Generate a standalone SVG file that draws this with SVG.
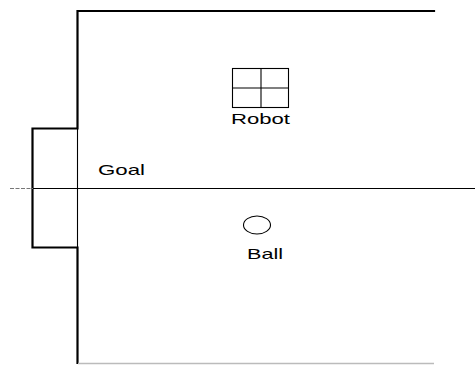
<svg xmlns="http://www.w3.org/2000/svg" width="475" height="365" viewBox="0 0 475 365">
<style>
.thick{fill:none;stroke:#000;stroke-width:2.2;stroke-linecap:square}
.thin{fill:none;stroke:#000;stroke-width:1.1}
.lbl{font-family:"Liberation Sans",Arial,sans-serif;font-size:15px;fill:#000}
</style>
<rect width="475" height="365" fill="#fff"/>
<g id="field">
<polyline class="thick" points="434,11 77.5,11 77.5,128.5 32.5,128.5 32.5,247.5 77.5,247.5 77.5,363"/>
<line x1="77.5" y1="128.5" x2="77.5" y2="247.5" class="thin"/>
<line x1="33" y1="188.5" x2="475" y2="188.5" class="thin"/>
<line x1="10" y1="188.5" x2="33" y2="188.5" stroke="#777" stroke-width="1" stroke-dasharray="4,1.5"/>
<line x1="78" y1="363.5" x2="434" y2="363.5" stroke="#bbb" stroke-width="1.5"/>
</g>
<g id="goal">
<text class="lbl" x="98" y="175" textLength="47" lengthAdjust="spacingAndGlyphs">Goal</text>
</g>
<g id="robot">
<rect x="232.5" y="68.5" width="56" height="39" class="thin" stroke-width="1.3"/>
<line x1="261" y1="68.5" x2="261" y2="107.5" class="thin" stroke-width="1.3"/>
<line x1="232.5" y1="88" x2="288.5" y2="88" class="thin" stroke-width="1.3"/>
<text class="lbl" x="231" y="124" textLength="59" lengthAdjust="spacingAndGlyphs">Robot</text>
</g>
<g id="ball">
<ellipse cx="257" cy="225" rx="13.5" ry="9" class="thin" stroke-width="1.3"/>
<text class="lbl" x="247" y="259" textLength="36" lengthAdjust="spacingAndGlyphs">Ball</text>
</g>
</svg>
